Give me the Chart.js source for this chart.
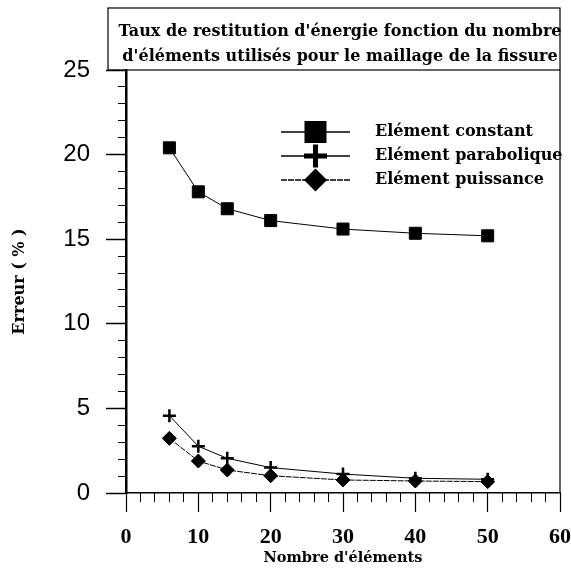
<!DOCTYPE html>
<html>
<head>
<meta charset="utf-8">
<script src="https://cdn.jsdelivr.net/npm/chart.js@4/dist/chart.umd.min.js"></script>
<style>
  html, body { margin: 0; padding: 0; background: #fff; }
  canvas { display: block; }
</style>
</head>
<body>
<canvas id="chart" width="571" height="569"></canvas>
<script>
// données
const nbElements = [6, 10, 14, 20, 30, 40, 50];
const constant = [20.4, 17.8, 16.8, 16.1, 15.6, 15.35, 15.2];
const parabolique = [4.57, 2.76, 2.05, 1.5, 1.12, 0.87, 0.81];
const puissance = [3.23, 1.89, 1.36, 1.02, 0.77, 0.71, 0.67];

const seriesNames = ["Elément constant", "Elément parabolique", "Elément puissance"];
const titleLines = [
  "Taux de restitution d'énergie fonction du nombre",
  "d'éléments utilisés pour le maillage de la fissure"
];
const xTitle = "Nombre d'éléments";
const yTitle = "Erreur ( % )";

const serif = "'DejaVu Serif', serif";

function points(ys) {
  return nbElements.map((x, i) => ({ x: x, y: ys[i] }));
}

// marqueur (légende)
function marker(ctx, style, x, y, r) {
  ctx.beginPath();
  if (style === "rect") {
    ctx.fillRect(x - r, y - r, 2 * r, 2 * r);
  } else if (style === "cross") {
    ctx.lineWidth = 5;
    ctx.setLineDash([]);
    ctx.moveTo(x - r, y); ctx.lineTo(x + r, y);
    ctx.moveTo(x, y - r); ctx.lineTo(x, y + r);
    ctx.stroke();
  } else {
    ctx.moveTo(x, y - r); ctx.lineTo(x + r, y);
    ctx.lineTo(x, y + r); ctx.lineTo(x - r, y);
    ctx.closePath();
    ctx.fill();
  }
}

// cadre du titre + titre + légende
const decor = {
  id: "decor",
  afterDraw(chart) {
    const { ctx, chartArea } = chart;
    ctx.save();
    ctx.strokeStyle = "#000";
    ctx.fillStyle = "#000";

    // cadre du titre et bord droit
    const boxLeft = chartArea.left - 18;
    ctx.lineWidth = 1.2;
    ctx.strokeRect(boxLeft, 8, chartArea.right - boxLeft, chartArea.top - 8);
    ctx.beginPath();
    ctx.moveTo(chartArea.right, chartArea.top);
    ctx.lineTo(chartArea.right, chartArea.bottom);
    ctx.stroke();

    ctx.font = "bold 16px " + serif;
    ctx.textAlign = "center";
    ctx.textBaseline = "middle";
    const cx = (boxLeft + chartArea.right) / 2 + 6;
    ctx.fillText(titleLines[0], cx, 32);
    ctx.fillText(titleLines[1], cx, 57);

    // légende
    chart.data.datasets.forEach((ds, i) => {
      const y = chartArea.top + 62 + i * 24;
      const x0 = chartArea.left + 155;
      const x1 = x0 + 69;
      ctx.lineWidth = 1.5;
      ctx.setLineDash(ds.borderDash || []);
      ctx.beginPath();
      ctx.moveTo(x0, y);
      ctx.lineTo(x1, y);
      ctx.stroke();
      ctx.setLineDash([]);
      const r = ds.pointStyle === "rect" ? 11 : 11.5;
      marker(ctx, ds.pointStyle, (x0 + x1) / 2, y, r);
      ctx.font = "bold 16px " + serif;
      ctx.textAlign = "left";
      ctx.fillText(ds.label, x1 + 25, y);
    });
    ctx.restore();
  }
};

const ctx = document.getElementById("chart");

new Chart(ctx, {
  type: "line",
  data: {
    datasets: [
      {
        label: seriesNames[0],
        data: points(constant),
        pointStyle: "rect",
        pointRadius: 8.5,
        borderColor: "#000",
        backgroundColor: "#000",
        borderWidth: 1,
        pointBorderWidth: 1
      },
      {
        label: seriesNames[1],
        data: points(parabolique),
        pointStyle: "cross",
        pointRadius: 6.5,
        borderColor: "#000",
        backgroundColor: "#000",
        borderWidth: 1,
        pointBorderWidth: 2.5
      },
      {
        label: seriesNames[2],
        data: points(puissance),
        pointStyle: "rectRot",
        pointRadius: 7,
        borderColor: "#000",
        backgroundColor: "#000",
        borderWidth: 1,
        borderDash: [6, 1],
        pointBorderWidth: 1
      }
    ]
  },
  options: {
    responsive: false,
    animation: false,
    layout: { padding: { top: 70, right: 11, left: 0, bottom: 0 } },
    plugins: {
      legend: { display: false },
      tooltip: { enabled: false }
    },
    scales: {
      x: {
        type: "linear",
        position: "bottom",
        weight: 1,
        min: 0,
        max: 60,
        ticks: {
          stepSize: 10,
          autoSkip: false,
          maxRotation: 0,
          padding: 12,
          color: "#000",
          font: { family: "'Liberation Serif', serif", weight: "bold", size: 22 }
        },
        grid: { drawOnChartArea: false, tickLength: 19, color: "#000", tickWidth: 1.2 },
        border: { display: true, color: "#000", width: 1.5 },
        title: {
          display: true,
          text: xTitle,
          color: "#000",
          padding: { top: 0, bottom: 2 },
          font: { family: serif, weight: "bold", size: 14.5 }
        },
        afterFit(scale) { scale.height = 76; scale.paddingLeft = 0; scale.paddingRight = 0; }
      },
      xMinor: {
        type: "linear",
        position: "bottom",
        weight: 0,
        min: 0,
        max: 60,
        ticks: { stepSize: 2, display: false },
        grid: { drawOnChartArea: false, tickLength: 9, color: "#000", tickWidth: 1 },
        border: { display: false },
        afterFit(scale) { scale.height = 0; }
      },
      y: {
        type: "linear",
        position: "left",
        weight: 1,
        min: 0,
        max: 25,
        ticks: {
          stepSize: 5,
          padding: 16,
          color: "#000",
          font: { family: "'Liberation Sans', Arial, sans-serif", size: 24 }
        },
        grid: { drawOnChartArea: false, tickLength: 20, color: "#000", tickWidth: 1.5 },
        border: { display: true, color: "#000", width: 2.5 },
        title: {
          display: true,
          text: yTitle,
          color: "#000",
          padding: { top: 10, bottom: 0 },
          font: { family: serif, weight: "bold", size: 16 }
        },
        afterFit(scale) { scale.width = 126; scale.paddingTop = 0; scale.paddingBottom = 0; }
      },
      yMinor: {
        type: "linear",
        position: "left",
        weight: 0,
        min: 0,
        max: 25,
        ticks: { stepSize: 1, display: false },
        grid: { drawOnChartArea: false, tickLength: 8, color: "#000", tickWidth: 1 },
        border: { display: false },
        afterFit(scale) { scale.width = 0; }
      }
    }
  },
  plugins: [decor]
});
</script>
</body>
</html>
